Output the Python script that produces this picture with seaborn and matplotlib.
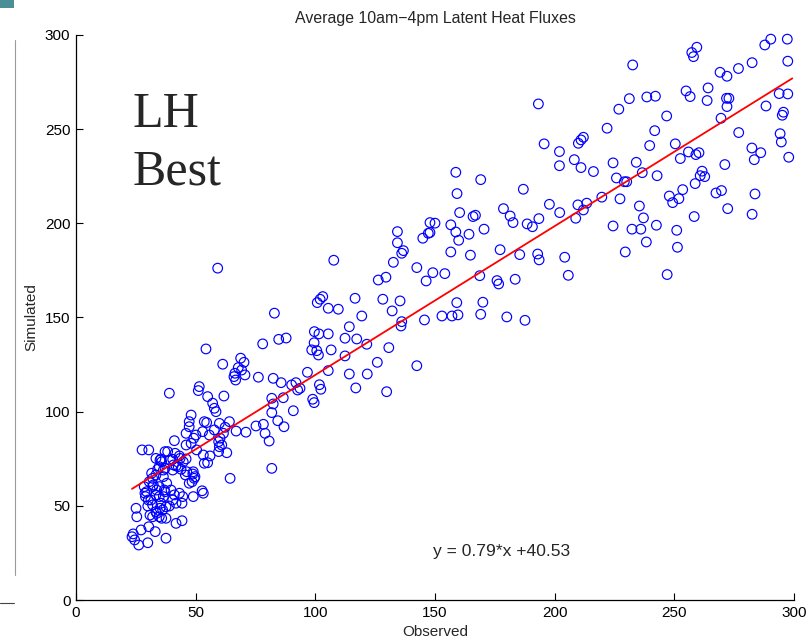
import numpy as np
import pandas as pd
import matplotlib
matplotlib.use("Agg")
import matplotlib.pyplot as plt
import seaborn as sns
from matplotlib.lines import Line2D
from matplotlib.patches import Rectangle

# ---------------- data ----------------
observed = [
    232.6, 259.4, 257.3, 258.0, 287.8, 290.3, 297.2, 297.4, 282.5, 276.8,
    269.1, 272.0, 264.1, 254.9, 256.6, 238.5, 242.1, 231.2, 226.8, 221.9,
    246.8, 263.7, 271.8, 272.8, 272.0, 269.5, 293.8, 297.4, 288.3, 295.6,
    295.1, 276.9, 241.8, 239.7, 250.4, 294.2, 294.7, 282.4, 286.1, 283.4,
    297.8, 271.1, 252.5, 255.9, 259.0, 260.3, 224.4, 234.1, 236.6, 242.8,
    225.8, 229.1, 230.1, 261.6, 260.8, 262.7, 258.7, 253.5, 247.9, 249.3,
    251.9, 219.7, 227.3, 267.4, 269.7, 283.7, 272.3, 235.4, 237.1, 224.4,
    232.3, 236.0, 242.5, 258.3, 282.5, 251.0, 238.3, 251.3, 229.5, 247.0,
    195.6, 202.0, 202.0, 208.2, 211.0, 216.2, 209.9, 211.0, 212.0, 158.7,
    169.1, 159.2, 186.9, 178.6, 181.4, 182.6, 197.8, 202.1, 209.7, 212.0,
    213.4, 208.8, 160.3, 165.9, 166.9, 147.9, 150.0, 147.9, 156.6, 158.7,
    159.9, 164.2, 170.5, 188.5, 190.7, 193.4, 156.6, 164.8, 177.2, 185.4,
    192.9, 193.5, 204.2, 205.7, 149.1, 154.1, 168.7, 175.9, 176.6, 183.5,
    159.1, 170.0, 152.9, 157.1, 159.6, 169.1, 180.0, 187.6, 193.2,
    134.3, 134.3, 136.8, 136.1, 132.6, 144.9, 147.2, 142.4, 146.3, 126.3,
    129.5, 107.7, 100.8, 102.0, 103.1, 105.4, 109.6, 116.6, 128.2, 135.4,
    132.1, 119.4, 136.1, 135.8, 145.6, 114.2, 99.6, 101.5, 105.4, 112.4,
    117.3, 121.5, 99.5, 98.5, 100.6, 101.3, 106.6, 112.4, 130.7, 125.9,
    142.4, 96.7, 105.4, 114.2, 121.7, 101.7, 102.3, 116.9, 129.8, 98.9,
    99.5, 93.6,
    78.0, 84.7, 87.8, 61.3, 68.8, 70.2, 67.8, 69.2, 66.4, 66.0,
    66.7, 70.6, 76.2, 82.4, 85.7, 90.1, 91.9, 92.6, 61.8, 81.8,
    82.4, 86.6, 81.8, 84.3, 86.9, 90.8, 75.2, 78.3, 79.0, 80.7,
    66.9, 71.0, 62.3, 61.6, 60.2, 60.9, 63.0, 81.8, 64.4, 82.9,
    59.2, 54.3,
    39.0, 51.5, 51.1, 55.0, 57.1, 57.8, 58.5, 48.1, 47.3, 47.3,
    46.0, 53.6, 54.6, 52.9, 59.9, 64.1, 57.8, 55.7, 50.1, 49.2,
    41.1, 46.0, 48.1, 59.6, 59.9, 27.6, 30.4, 38.3, 33.4, 35.5,
    40.4, 43.2, 46.0, 44.8, 53.6, 55.0, 59.6, 34.1, 36.5, 33.4,
    32.0, 40.4, 41.8, 43.9, 45.7, 48.8, 49.4, 48.5, 52.7, 53.2,
    49.0, 28.5, 29.5, 29.0, 32.0, 33.4, 31.3, 32.0, 34.8, 36.9,
    36.5, 35.5, 37.6, 36.2, 39.7, 41.1, 40.4, 41.8, 39.0, 43.2,
    44.6, 44.3, 30.0, 33.4, 32.0, 34.8, 37.6, 41.8, 44.3, 25.1,
    25.4, 30.4, 27.2, 33.1, 37.6, 23.9, 23.4, 24.5, 26.2, 30.0,
    37.2, 41.4, 43.5, 39.3, 40.7, 42.7, 35.8, 37.2, 50.4, 53.2,
    56.0, 49.0, 49.7, 46.3, 47.3, 36.5, 37.9,
    35.1, 34.8, 31.6, 30.6, 32.3, 28.8, 33.7, 37.2, 34.8, 30.2,
    35.1, 33.7, 30.9, 35.8,
]
simulated = [
    284.1, 293.5, 290.7, 288.5, 294.7, 297.8, 297.8, 286.1, 285.3, 282.2,
    280.2, 278.1, 271.9, 270.3, 267.3, 267.1, 267.5, 266.2, 260.6, 250.5,
    257.0, 265.2, 266.4, 266.4, 262.0, 255.8, 268.9, 268.7, 262.3, 259.0,
    257.4, 248.2, 249.2, 241.3, 242.2, 247.6, 243.2, 240.0, 237.5, 233.8,
    235.1, 231.2, 234.4, 237.9, 236.5, 237.5, 232.1, 232.4, 226.9, 225.3,
    224.1, 222.1, 222.1, 227.7, 225.3, 224.8, 221.1, 217.9, 214.5, 211.0,
    213.1, 213.9, 213.0, 216.1, 217.4, 215.6, 207.8, 209.2, 202.9, 198.6,
    196.9, 196.9, 199.0, 203.6, 204.8, 196.3, 190.1, 187.3, 184.8, 172.8,
    242.2, 238.1, 230.6, 233.8, 229.6, 227.5, 242.5, 244.3, 245.7, 227.1,
    223.2, 215.8, 218.1, 207.8, 203.9, 200.4, 210.1, 205.7, 209.8, 207.1,
    210.7, 202.7, 205.7, 203.6, 204.3, 200.4, 200.1, 195.1, 199.2, 195.4,
    191.0, 194.2, 196.9, 199.7, 198.2, 202.5, 184.8, 183.1, 186.0, 183.4,
    183.7, 180.6, 182.0, 172.4, 173.8, 173.3, 172.2, 169.6, 167.8, 170.3,
    157.9, 158.1, 150.8, 150.8, 151.4, 151.7, 150.3, 148.5, 263.4,
    195.6, 189.7, 185.5, 184.1, 179.3, 192.1, 194.7, 176.5, 169.4, 169.9,
    171.4, 180.4, 157.9, 159.7, 161.1, 154.9, 154.4, 160.2, 159.7, 158.8,
    153.5, 150.8, 147.8, 145.5, 148.7, 145.1, 142.5, 141.3, 141.3, 139.0,
    138.6, 135.8, 136.6, 132.8, 132.4, 130.1, 132.8, 129.6, 134.0, 126.2,
    124.4, 120.9, 121.8, 120.0, 120.0, 114.3, 111.9, 112.6, 110.6, 106.6,
    104.8, 112.4,
    136.0, 138.4, 139.1, 125.2, 128.4, 126.2, 123.4, 122.1, 120.4, 118.6,
    116.8, 119.5, 118.3, 117.7, 115.4, 114.2, 115.4, 111.5, 108.3, 107.1,
    104.1, 107.4, 99.5, 95.2, 92.0, 100.5, 92.4, 93.3, 88.5, 84.4,
    89.7, 89.1, 91.7, 88.5, 85.9, 82.3, 78.2, 69.9, 64.6, 152.3,
    176.2, 133.3,
    109.8, 113.3, 111.2, 108.0, 104.5, 101.8, 100.0, 98.2, 94.7, 92.0,
    88.5, 94.7, 94.2, 89.4, 93.8, 94.7, 90.3, 87.6, 87.6, 85.9,
    84.6, 82.3, 83.2, 84.1, 81.4, 79.7, 79.7, 78.8, 75.2, 74.9,
    74.7, 76.5, 74.9, 73.4, 72.6, 72.9, 78.8, 69.4, 69.0, 66.4,
    64.6, 69.0, 71.2, 69.4, 66.4, 66.9, 64.6, 62.8, 58.0, 56.7,
    54.9, 60.2, 57.5, 54.9, 60.2, 55.8, 53.1, 50.5, 60.2, 58.4,
    54.9, 51.4, 49.5, 47.8, 58.4, 55.8, 53.1, 51.4, 49.9, 56.7,
    54.9, 51.4, 49.9, 46.9, 44.2, 44.2, 43.4, 40.7, 42.1, 48.7,
    44.2, 38.9, 37.2, 36.3, 32.8, 35.1, 33.6, 31.9, 29.2, 30.4,
    78.8, 77.9, 75.2, 74.3, 71.7, 70.8, 73.4, 69.9, 79.7, 77.0,
    76.5, 68.1, 65.5, 68.1, 62.0, 65.5, 62.0,
    74.3, 70.8, 67.3, 62.8, 61.1, 56.7, 58.4, 57.5, 54.9, 53.1,
    48.7, 46.0, 45.1, 43.4,
]
fit_slope = 0.79
fit_intercept = 40.53
x_ticks = [0, 50, 100, 150, 200, 250, 300]
y_ticks = [0, 50, 100, 150, 200, 250, 300]
title_text = "Average 10am\u22124pm Latent Heat Fluxes"
x_label = "Observed"
y_label = "Simulated"
panel_label = "LH\nBest"
equation_text = "y = %.2f*x +%.2f" % (fit_slope, fit_intercept)

# ---------------- style ----------------
sns.set_theme(style="ticks")
plt.rcParams['font.family'] = ['Liberation Sans', 'DejaVu Sans']
plt.rcParams['axes.edgecolor'] = 'black'
plt.rcParams['xtick.color'] = 'black'
plt.rcParams['ytick.color'] = 'black'

W, H = 812, 644
fig = plt.figure(figsize=(W / 100, H / 100), dpi=100)
fig.patch.set_facecolor('white')
ax = fig.add_axes([76 / W, 44 / H, 718 / W, 565 / H])

df = pd.DataFrame({x_label: observed, y_label: simulated})
sns.scatterplot(data=df, x=x_label, y=y_label, ax=ax, marker='o',
                facecolors='none', edgecolor='#0000ff', s=48,
                linewidth=0.85, legend=False, clip_on=False)

line_x = np.array([min(observed), max(observed) + 1.5])
line_df = pd.DataFrame({"x": line_x, "y": fit_slope * line_x + fit_intercept})
sns.lineplot(data=line_df, x="x", y="y", ax=ax, color='#ff0000', linewidth=1.3)

ax.set_xlim(0, 300)
ax.set_ylim(0, 300)
ax.set_xticks(x_ticks)
ax.set_yticks(y_ticks)
ax.tick_params(direction='in', length=5, width=0.8, labelsize=11, pad=4)
for s in ['top', 'right']:
    ax.spines[s].set_visible(False)
for s in ['left', 'bottom']:
    ax.spines[s].set_linewidth(0.9)

ax.set_title(title_text, fontsize=11.4, pad=9)
ax.set_xlabel(x_label, fontsize=11, labelpad=4)
ax.set_ylabel(y_label, fontsize=11, labelpad=5)

ax.text(23.8, 270, panel_label, fontsize=36, va='top', ha='left',
        family=['Liberation Serif', 'DejaVu Serif'], linespacing=1.32)
ax.text(149.2, 26, equation_text, fontsize=12.6, va='center', ha='left')

# screenshot edge artefacts of the reference
fig.patches.append(Rectangle((0, 1 - 8 / H), 14 / W, 8 / H, transform=fig.transFigure,
                             facecolor='#4b8e98', edgecolor='none'))
fig.lines.append(Line2D([15 / W, 15 / W], [1 - 40 / H, 1 - 575 / H], transform=fig.transFigure,
                        color='#9a9a9a', linewidth=0.8))
fig.lines.append(Line2D([0, 14 / W], [1 - 603 / H, 1 - 603 / H], transform=fig.transFigure,
                        color='#444444', linewidth=0.8))

fig.savefig("out.png", dpi=100)
